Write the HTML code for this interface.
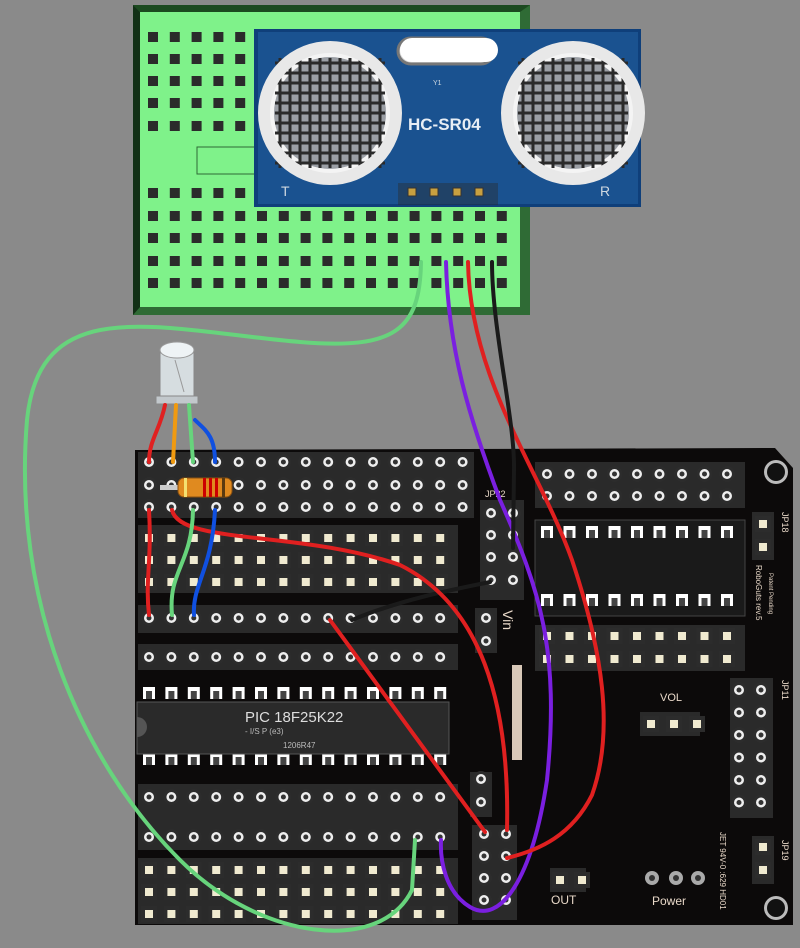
<!DOCTYPE html>
<html><head><meta charset="utf-8"><style>
html,body{margin:0;padding:0;background:#8a8a8a;width:800px;height:948px;overflow:hidden}
svg{display:block}
text{font-family:"Liberation Sans",sans-serif}
</style></head><body>
<svg id="s" width="800" height="948" viewBox="0 0 800 948" xmlns="http://www.w3.org/2000/svg">
<rect width="800" height="948" fill="#8a8a8a"/>
<rect x="133" y="5" width="397" height="310" fill="#2f6b35"/>
<rect x="140" y="12" width="380" height="295" fill="#7ff28a"/>
<polygon points="133,5 530,5 520,12 140,12" fill="#1c4a20"/>
<polygon points="133,5 140,12 140,307 133,315" fill="#123016"/>
<rect x="197" y="147" width="65" height="27" fill="none" stroke="#2f6b35" stroke-width="1"/>
<g id="bbholes"></g>
<rect x="254" y="29" width="387" height="178" fill="#0f3f7a"/>
<rect x="258" y="32" width="380" height="172" fill="#1a5290"/>
<rect x="398" y="38" width="96" height="26" rx="13" fill="#d8d8d8" stroke="#777" stroke-width="3"/>
<rect x="400" y="38" width="98" height="24" rx="12" fill="#fff"/>
<g id="transducers"></g>
<text x="408" y="130" font-size="17" font-weight="bold" fill="#e8eef5">HC-SR04</text>
<text x="281" y="196" font-size="14" fill="#cfd8e0">T</text>
<text x="600" y="196" font-size="14" fill="#cfd8e0">R</text>
<text x="433" y="85" font-size="7" fill="#cfd8e0">Y1</text>
<rect x="398" y="183" width="100" height="22" fill="#2a2a2a" opacity=".4"/>
<g id="pins"></g>
<polygon points="135,450 775,448 793,468 793,925 135,925" fill="#0c0a0a"/>
<g id="pcb"></g>
<rect x="137" y="702" width="312" height="52" fill="#2a2a2a" stroke="#555"/>
<path d="M137,717 a10,10 0 0 1 0,20 z" fill="#555"/>
<text x="245" y="722" font-size="15" fill="#ddd">PIC 18F25K22</text>
<text x="245" y="734" font-size="8" fill="#bbb">- I/S P (e3)</text>
<text x="283" y="748" font-size="8" fill="#bbb">1206R47</text>
<text x="503" y="610" font-size="14" fill="#e8d8c8" transform="rotate(90 503 610)">Vin</text>
<text x="660" y="701" font-size="11" fill="#e8d8c8">VOL</text>
<text x="551" y="904" font-size="12" fill="#e8d8c8">OUT</text>
<text x="652" y="905" font-size="12" fill="#e8d8c8">Power</text>
<text x="782" y="512" font-size="9" fill="#e8d8c8" transform="rotate(90 782 512)">JP18</text>
<text x="782" y="680" font-size="9" fill="#e8d8c8" transform="rotate(90 782 680)">JP11</text>
<text x="782" y="840" font-size="9" fill="#e8d8c8" transform="rotate(90 782 840)">JP19</text>
<text x="756" y="565" font-size="8" fill="#e8d8c8" transform="rotate(90 756 565)">RoboGuts rev.5</text>
<text x="769" y="573" font-size="6" fill="#e8d8c8" transform="rotate(90 769 573)">Patent Pending</text>
<text x="720" y="832" font-size="8" fill="#e8d8c8" transform="rotate(90 720 832)">JET 94V-0 :629 HD01</text>
<text x="485" y="497" font-size="9" fill="#e8d8c8">JP22</text>
<rect x="160" y="350" width="34" height="50" rx="4" fill="#d6dde0" stroke="#888"/>
<ellipse cx="177" cy="350" rx="17" ry="8" fill="#eef3f5" stroke="#999"/>
<rect x="156" y="396" width="42" height="8" fill="#c2c8cc" stroke="#888"/>
<line x1="175" y1="360" x2="184" y2="392" stroke="#999"/>
<rect x="160" y="485" width="40" height="5" fill="#ccc"/>
<rect x="178" y="478" width="54" height="19" rx="6" fill="#e08a1f" stroke="#8a5010"/>
<rect x="184" y="478" width="3" height="19" fill="#f5e070"/>
<rect x="203" y="478" width="3" height="19" fill="#c00"/>
<rect x="209" y="478" width="3" height="19" fill="#c00"/>
<rect x="215" y="478" width="3" height="19" fill="#c00"/>
<rect x="222" y="478" width="3" height="19" fill="#5a3a10"/>
<g fill="none" stroke-linecap="round" stroke-width="4">
<path d="M421,262 C420,330 395,350 300,342 C160,330 40,290 27,420 C12,600 80,760 180,860 C260,940 380,955 412,890 L415,840" stroke="#67d47c"/>
<path d="M446,262 C448,350 470,420 500,500 C540,590 560,650 547,780 C532,880 500,925 470,907 C445,892 440,860 441,840" stroke="#7a1fe0"/>
<path d="M468,262 C470,380 540,470 572,560 C602,650 615,730 592,795 C572,835 540,850 507,858" stroke="#e02020"/>
<path d="M492,262 C492,330 515,420 514,470 L513,548" stroke="#1a1a1a"/>
<path d="M352,620 C400,600 450,590 490,582" stroke="#1a1a1a"/>
<path d="M172,510 C180,545 300,530 400,565 C480,605 510,700 507,830" stroke="#e02020"/>
<path d="M330,620 L485,832" stroke="#e02020"/>
<path d="M149,462 C149,440 160,430 165,405" stroke="#e02020"/>
<path d="M173,462 L176,405" stroke="#f09a10"/>
<path d="M193,462 L189,405" stroke="#67d47c"/>
<path d="M215,462 C215,435 205,430 195,420" stroke="#1050e0"/>
<path d="M149,510 C152,560 145,580 149,615" stroke="#e02020"/>
<path d="M193,510 C192,565 168,570 172,615" stroke="#67d47c"/>
<path d="M215,510 C212,570 192,585 194,615" stroke="#1050e0"/>
</g>
</svg>
<script>
var NS="http://www.w3.org/2000/svg";
function el(p,t,a){var e=document.createElementNS(NS,t);for(var k in a)e.setAttribute(k,a[k]);p.appendChild(e);return e;}
var bb=document.getElementById("bbholes");
var rows=[37,59,81,103,126,193,216,238,261,283];
rows.forEach(function(y,i){for(var c=0;c<17;c++){var x=153+c*21.8;if(i<5&&c>4)continue;el(bb,"rect",{x:x-5,y:y-5,width:10,height:10,fill:"#2b2b2b"});}});
var tr=document.getElementById("transducers");
[[330,113],[573,113]].forEach(function(p){
el(tr,"circle",{cx:p[0],cy:p[1],r:68,fill:"#cfd3d6"});
el(tr,"circle",{cx:p[0],cy:p[1],r:62,fill:"#f4f4f4"});
el(tr,"circle",{cx:p[0],cy:p[1],r:56,fill:"#9a9ea4"});
for(var i=-5;i<=5;i++){el(tr,"line",{x1:p[0]+i*10,y1:p[1]-55,x2:p[0]+i*10,y2:p[1]+55,stroke:"#2a2a2a","stroke-width":3});el(tr,"line",{x1:p[0]-55,y1:p[1]+i*10,x2:p[0]+55,y2:p[1]+i*10,stroke:"#2a2a2a","stroke-width":3});}
});
[[330,113],[573,113]].forEach(function(p){el(tr,"circle",{cx:p[0],cy:p[1],r:66,fill:"none",stroke:"#e8e8e8","stroke-width":12});});
var pins=document.getElementById("pins");
[412,434,457,479].forEach(function(x){el(pins,"rect",{x:x-4,y:188,width:8,height:8,fill:"#c8a040",stroke:"#333"});});
var pc=document.getElementById("pcb");
function hole(x,y){el(pc,"circle",{cx:x,cy:y,r:8,fill:"#2c2c2c"});el(pc,"circle",{cx:x,cy:y,r:5,fill:"#eee"});el(pc,"circle",{cx:x,cy:y,r:2.5,fill:"#333"});}
function pad(x,y){el(pc,"rect",{x:x-8,y:y-8,width:16,height:16,fill:"#2c2c2c"});el(pc,"rect",{x:x-4,y:y-4,width:8,height:8,fill:"#f0ead0"});}
function wpad(x,y){el(pc,"rect",{x:x-6,y:y-6,width:12,height:12,fill:"#fff"});el(pc,"rect",{x:x-3,y:y-2,width:6,height:8,fill:"#444"});}
el(pc,"rect",{x:138,y:452,width:336,height:66,fill:"#2a2a2a"});
el(pc,"rect",{x:138,y:525,width:320,height:68,fill:"#2a2a2a"});
el(pc,"rect",{x:138,y:605,width:320,height:28,fill:"#2a2a2a"});
el(pc,"rect",{x:138,y:644,width:320,height:26,fill:"#2a2a2a"});
el(pc,"rect",{x:138,y:784,width:320,height:66,fill:"#2a2a2a"});
el(pc,"rect",{x:138,y:858,width:320,height:66,fill:"#2a2a2a"});
for(var c=0;c<14;c++){var x=149+c*22.4;
[462,485,507,618,657,797,837].forEach(function(y){hole(x,y);});
[538,560,582,870,892,914].forEach(function(y){pad(x,y);});
[693,759].forEach(function(y){wpad(x,y);});}
[462,485,507].forEach(function(y){hole(149+14*22.4,y);});
el(pc,"rect",{x:480,y:500,width:44,height:100,fill:"#2a2a2a"});
[513,535,557,580].forEach(function(y){hole(491,y);hole(513,y);});
el(pc,"rect",{x:475,y:608,width:22,height:45,fill:"#2a2a2a"});hole(486,618);hole(486,641);
el(pc,"rect",{x:470,y:772,width:22,height:45,fill:"#2a2a2a"});hole(481,779);hole(481,802);
el(pc,"rect",{x:472,y:825,width:45,height:95,fill:"#2a2a2a"});
[834,856,878,900].forEach(function(y){hole(484,y);hole(506,y);});
el(pc,"rect",{x:535,y:462,width:210,height:46,fill:"#2a2a2a"});
el(pc,"rect",{x:535,y:520,width:210,height:96,fill:"#1a1a1a",stroke:"#444"});
el(pc,"rect",{x:535,y:625,width:210,height:46,fill:"#2a2a2a"});
for(var c=0;c<9;c++){var x=547+c*22.5;hole(x,474);hole(x,496);wpad(x,532);wpad(x,600);pad(x,636);pad(x,659);}
el(pc,"rect",{x:730,y:678,width:43,height:140,fill:"#2a2a2a"});
for(var r=0;r<6;r++){hole(739,690+r*22.5);hole(761,690+r*22.5);}
el(pc,"rect",{x:752,y:512,width:22,height:48,fill:"#2a2a2a"});pad(763,524);pad(763,547);
el(pc,"rect",{x:752,y:836,width:22,height:48,fill:"#2a2a2a"});pad(763,847);pad(763,870);
el(pc,"rect",{x:640,y:712,width:60,height:24,fill:"#2a2a2a"});pad(651,724);pad(674,724);pad(697,724);
el(pc,"rect",{x:550,y:868,width:36,height:24,fill:"#2a2a2a"});pad(560,880);pad(582,880);
[652,676,698].forEach(function(x){el(pc,"circle",{cx:x,cy:878,r:7,fill:"#aaa"});el(pc,"circle",{cx:x,cy:878,r:3,fill:"#333"});});
el(pc,"circle",{cx:776,cy:472,r:12,fill:"#bbb"});el(pc,"circle",{cx:776,cy:472,r:9,fill:"#111"});
el(pc,"circle",{cx:776,cy:908,r:12,fill:"#bbb"});el(pc,"circle",{cx:776,cy:908,r:9,fill:"#111"});
el(pc,"rect",{x:512,y:665,width:10,height:95,fill:"#d8c8b8"});
</script>
</body></html>
